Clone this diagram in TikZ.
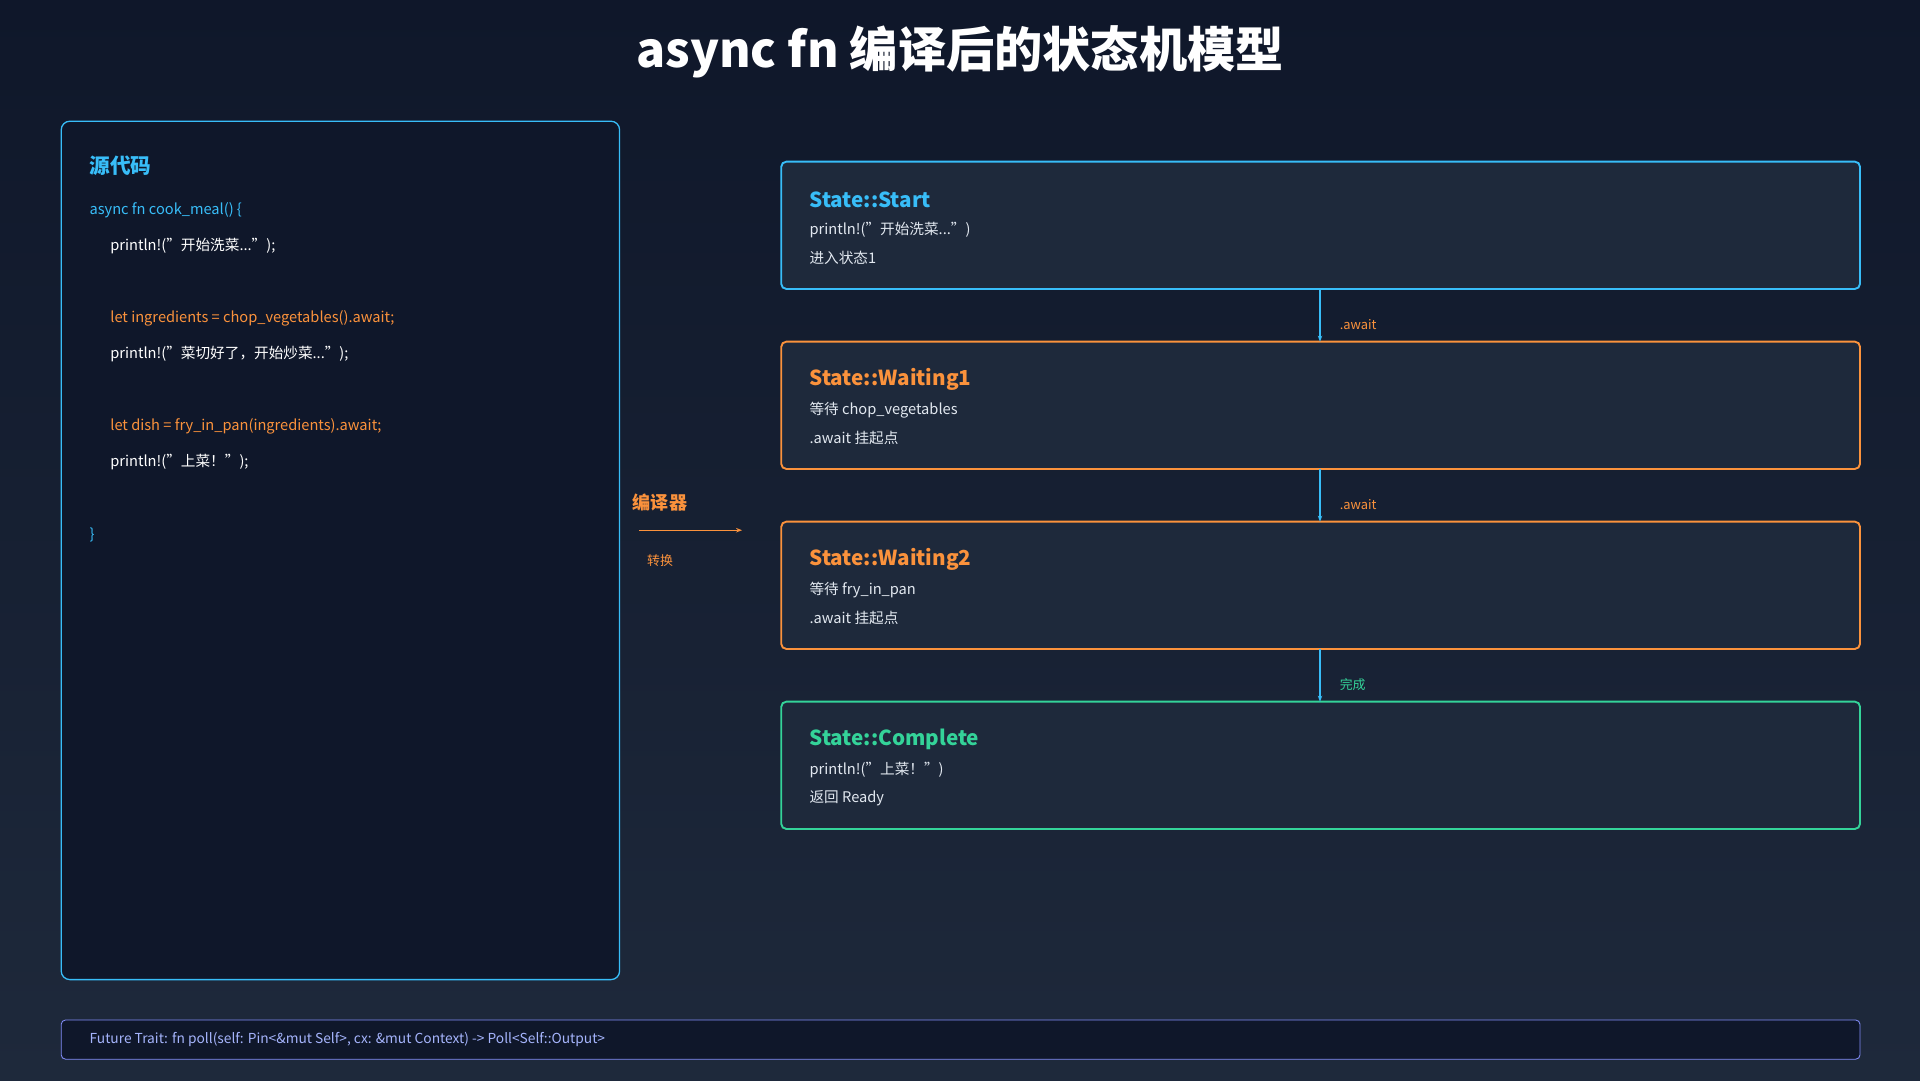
\documentclass[tikz,border=0pt]{standalone}
\usepackage{fontspec}
\setmainfont{Noto Sans CJK SC}
\usetikzlibrary{arrows.meta}
\definecolor{bgA}{HTML}{0F172A}
\definecolor{bgB}{HTML}{1E293B}
\definecolor{cy}{HTML}{38BDF8}
\definecolor{og}{HTML}{FB923C}
\definecolor{gn}{HTML}{34D399}
\definecolor{pu}{HTML}{818CF8}
\definecolor{pt}{HTML}{A5B4FC}
\definecolor{tx}{HTML}{E2E8F0}
\begin{document}
\begin{tikzpicture}[x=0.05cm,y=-0.05cm,
  box/.style={rounded corners=6pt,line width=2.2pt,fill=bgB},
  code/.style={anchor=west,font=\fontsize{17}{20}\selectfont,inner sep=0},
  stt/.style={anchor=west,font=\fontsize{24}{28}\selectfont\bfseries,inner sep=0},
  stl/.style={anchor=west,font=\fontsize{17}{20}\selectfont,text=tx,inner sep=0},
  arr/.style={draw=cy,line width=1.5pt,-{Stealth[length=7pt]}},
  lab/.style={anchor=west,font=\fontsize{15}{18}\selectfont,inner sep=0}]
\shade[top color=bgA,bottom color=bgB] (0,0) rectangle (1568,882);
\useasboundingbox (0,0) rectangle (1568,882);
\node[text=white,font=\fontsize{56}{64}\selectfont\bfseries] (title) at (784,42) {async fn 编译后的状态机模型};
% left
\draw[cy,rounded corners=10pt,line width=1.5pt,fill=bgA] (50,99) rectangle (506,800);
\node[anchor=west,text=cy,font=\fontsize{24}{28}\selectfont\bfseries,inner sep=0] (src) at (73,135) {源代码};
\node[code,text=cy] (c1) at (73,172) {async fn cook\_meal() \{};
\node[code,text=white] (c2) at (90,201) {println!("开始洗菜...");};
\node[code,text=og] (c3) at (90,260) {let ingredients = chop\_vegetables().await;};
\node[code,text=white] (c4) at (90,289) {println!("菜切好了，开始炒菜...");};
\node[code,text=og] (c5) at (90,348) {let dish = fry\_in\_pan(ingredients).await;};
\node[code,text=white] (c6) at (90,377) {println!("上菜！");};
\node[code,text=cy] (c7) at (73,437) {\}};
% compiler
\node[text=og,font=\fontsize{21}{24}\selectfont\bfseries] (cmp) at (539,410) {编译器};
\coordinate (a1) at (522,433); \coordinate (a2) at (606,433);
\draw[og,line width=1.5pt,-{Stealth[length=7pt]}] (a1) -- (a2);
\node[text=og,font=\fontsize{15}{18}\selectfont] (conv) at (539,458) {转换};
% states
\foreach \n/\y/\c/\t/\la/\lb in {s1/132/cy/State::Start/{println!("开始洗菜...")}/进入状态1,
  s2/279/og/State::Waiting1/等待 chop\_vegetables/.await 挂起点,
  s3/426/og/State::Waiting2/等待 fry\_in\_pan/.await 挂起点,
  s4/573/gn/State::Complete/{println!("上菜！")}/返回 Ready}{
  \draw[box,draw=\c] (638,\y) rectangle (1519,\y+104);
  \coordinate (\n) at (1078,\y+52);
  \coordinate (\n t) at (1078,\y); \coordinate (\n b) at (1078,\y+104);
  \node[stt,text=\c] at (661,\y+31) {\t};
  \node[stl] at (661,\y+56) {\la};
  \node[stl] at (661,\y+79) {\lb};
}
\draw[arr] (s1b) -- (s2t);
\draw[arr] (s2b) -- (s3t);
\draw[arr] (s3b) -- (s4t);
\node[lab,text=og] (l1) at (1094,265) {.await};
\node[lab,text=og] (l2) at (1094,412) {.await};
\node[lab,text=gn] (l3) at (1094,559) {完成};
% bottom
\draw[pu,rounded corners=5pt,line width=1pt,fill=bgA] (50,833) rectangle (1519,865);
\node[anchor=west,text=pt,font=\fontsize{16}{19}\selectfont,inner sep=0] (ft) at (73,849) {Future Trait: fn poll(self: Pin<\&mut Self>, cx: \&mut Context) -> Poll<Self::Output>};
\end{tikzpicture}
\end{document}
